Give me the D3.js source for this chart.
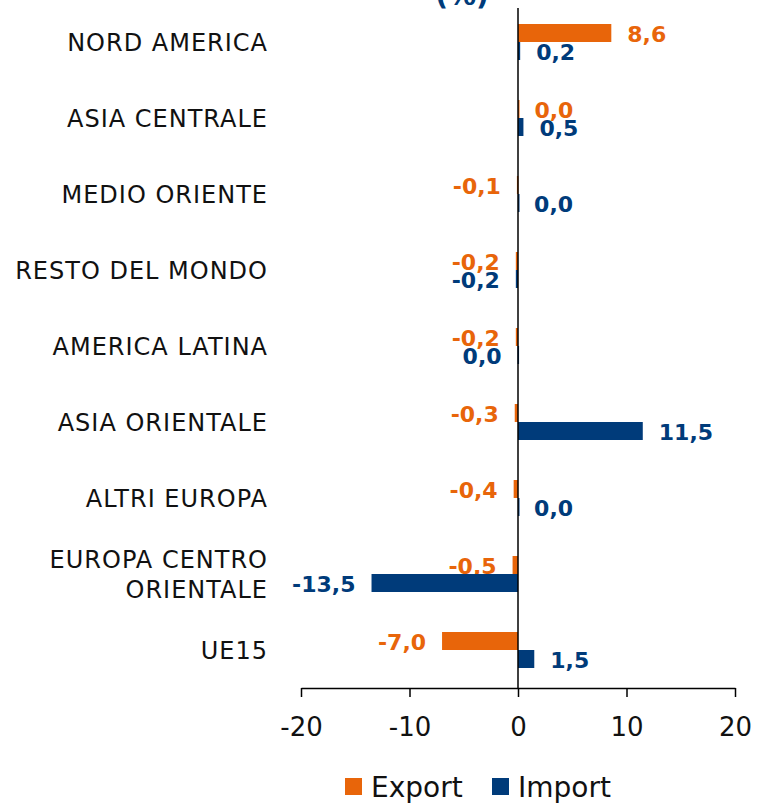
<!DOCTYPE html>
<html>
<head>
<meta charset="utf-8">
<script src="https://cdn.jsdelivr.net/npm/d3@7"></script>
<style>
  body { margin: 0; background: #fff; }
  svg { display: block; font-family: "DejaVu Sans", sans-serif; }
</style>
</head>
<body>
<svg id="chart" width="765" height="804"></svg>
<script>
// Data (top to bottom)
const categories = [
  "NORD AMERICA", "ASIA CENTRALE", "MEDIO ORIENTE", "RESTO DEL MONDO",
  "AMERICA LATINA", "ASIA ORIENTALE", "ALTRI EUROPA",
  "EUROPA CENTRO|ORIENTALE", "UE15"
];
const exportValues = [8.6, 0.04, -0.1, -0.2, -0.2, -0.3, -0.4, -0.5, -7.0];
const importValues = [0.2, 0.5, 0.01, -0.2, -0.04, 11.5, 0.01, -13.5, 1.5];
const seriesNames = ["Export", "Import"];
const tickValues = [-20, -10, 0, 10, 20];

const color = { Export: "#E8650A", Import: "#003B7A", text: "#111", axis: "#000" };

const svg = d3.select("#chart");
const margin = { top: 4, right: 30, bottom: 116, left: 301 };
const W = 765, H = 804;
const plotBottom = H - margin.bottom; // 688

const x = d3.scaleLinear().domain([-20, 20]).range([margin.left, W - margin.right]);
const y = d3.scaleBand().domain(categories).range([margin.top, plotBottom]);
const barH = 18;
const sub = d3.scaleBand()
  .domain(seriesNames)
  .range([0, y.bandwidth()])
  .paddingInner(0)
  .paddingOuter((y.bandwidth() / barH - 2) / 2);

const fmt = (v) => (Math.round(v * 10) / 10 + 0).toFixed(1).replace(".", ",");

const rows = categories.map((c, i) => ({ cat: c, Export: exportValues[i], Import: importValues[i] }));

// unit label (clipped at the top like the reference)
svg.append("text")
  .attr("x", 462).attr("y", 5)
  .attr("text-anchor", "middle")
  .attr("font-size", 28).attr("font-weight", "bold")
  .attr("fill", color.Import)
  .text("(%)");

// bars
const g = svg.append("g");
seriesNames.forEach((s) => {
  g.selectAll(".bar-" + s)
    .data(rows)
    .join("rect")
    .attr("class", "bar-" + s)
    .attr("x", (d) => Math.min(x(0), x(d[s])))
    .attr("y", (d) => y(d.cat) + sub(s))
    .attr("width", (d) => Math.max(Math.abs(x(d[s]) - x(0)), 1.5))
    .attr("height", sub.bandwidth())
    .attr("fill", color[s]);

  g.selectAll(".lbl-" + s)
    .data(rows)
    .join("text")
    .attr("class", "lbl-" + s)
    .attr("x", (d) => d[s] < 0 ? x(d[s]) - 16 : x(d[s]) + 16)
    .attr("y", (d) => y(d.cat) + sub(s) + sub.bandwidth() / 2 + 1)
    .attr("dy", "0.36em")
    .attr("text-anchor", (d) => d[s] < 0 ? "end" : "start")
    .attr("font-size", 22)
    .attr("font-weight", "bold")
    .attr("fill", color[s])
    .text((d) => fmt(d[s]));
});

// zero line
svg.append("line")
  .attr("x1", x(0)).attr("x2", x(0))
  .attr("y1", margin.top + 4).attr("y2", plotBottom)
  .attr("stroke", color.axis).attr("stroke-width", 1.5);

// category labels
const catG = svg.append("g");
rows.forEach((d) => {
  const parts = d.cat.split("|");
  const t = catG.append("text")
    .attr("x", 268)
    .attr("y", y(d.cat) + y.bandwidth() / 2)
    .attr("text-anchor", "end")
    .attr("font-size", 24)
    .attr("letter-spacing", 1)
    .attr("fill", color.text);
  parts.forEach((p, i) => {
    t.append("tspan")
      .attr("x", 268)
      .attr("dy", i === 0 ? (0.36 - (parts.length - 1) * 0.6) + "em" : "1.25em")
      .text(p);
  });
});

// x axis
const xAxis = svg.append("g")
  .attr("transform", `translate(0,${plotBottom})`)
  .call(d3.axisBottom(x).tickValues(tickValues).tickSize(9).tickSizeOuter(0).tickFormat(d3.format("d")));
xAxis.select(".domain").attr("stroke", color.axis).attr("stroke-width", 1.5);
xAxis.selectAll(".tick line").attr("stroke", color.axis).attr("stroke-width", 1.5);
xAxis.selectAll(".tick text")
  .attr("y", 30)
  .attr("font-size", 26)
  .attr("font-family", "DejaVu Sans, sans-serif")
  .attr("fill", color.text)
  .text((d) => String(d).replace("\u2212", "-"));

// legend
const legend = svg.append("g").attr("transform", "translate(345,778)");
const legendX = [0, 147];
seriesNames.forEach((s, i) => {
  const lg = legend.append("g").attr("transform", `translate(${legendX[i]},0)`);
  lg.append("rect").attr("width", 17).attr("height", 17).attr("fill", color[s]);
  lg.append("text")
    .attr("x", 26).attr("y", 9).attr("dy", "0.36em")
    .attr("font-size", 28).attr("fill", color.text)
    .text(s);
});
</script>
</body>
</html>
